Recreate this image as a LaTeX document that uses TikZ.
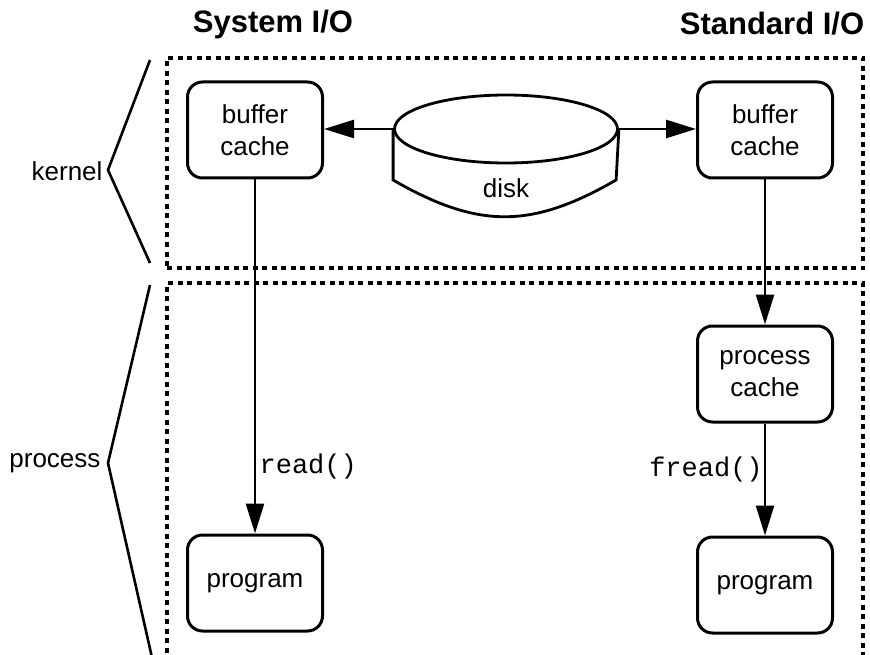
\documentclass[tikz,border=0pt]{standalone}
\usepackage{fontspec}
\setmainfont{Liberation Sans}
\setmonofont{Liberation Mono}
\usetikzlibrary{arrows.meta, positioning, shapes.geometric}

\begin{document}
\begin{tikzpicture}[x=1pt,y=-1pt,>={Triangle[length=30pt,width=18pt]}]

		\tikzstyle{cachebox}=[rectangle,rounded corners=15pt,draw,line width=3pt,
			minimum width=135pt,minimum height=96pt,align=center,
			font=\fontsize{26}{32}\selectfont]
		\tikzstyle{layer}=[rectangle,draw,line width=3.4pt,dash pattern=on 5pt off 4.5pt,
			minimum width=696pt]
		\tikzstyle{title}=[font=\fontsize{31}{34}\selectfont\bfseries]
		\tikzstyle{side}=[font=\fontsize{26}{30}\selectfont]
		\tikzstyle{call}=[font=\fontsize{27}{30}\selectfont\ttfamily]
		\tikzstyle{flow}=[->,line width=2.6pt]

		\useasboundingbox (0,0) rectangle (870,655);

		\node [title] (sysio) at (273,24) {System I/O};
		\node [title] (stdio) at (772,24) {Standard I/O};

		\node [layer, minimum height=210pt] (kernelbox) at (515,163) {};
		\node [layer, minimum height=400pt] (processbox) at (515,483) {};

		\node [cachebox] (bufL) at (255,130) {buffer\\cache};
		\node [cachebox] (bufR) at (765,130) {buffer\\cache};
		\node [cachebox, below=354pt of bufL] (progL) {program};
		\node [cachebox, below=145pt of bufR] (procC) {process\\cache};
		\node [cachebox, below=112pt of procC] (progR) {program};

		% disk
		\node [ellipse, draw, line width=2.8pt, minimum width=223pt, minimum height=68pt]
			(disk) at (506,129) {};
		\draw [line width=2.8pt] (disk.west) -- ++(0,51) coordinate (dsw)
			.. controls ++(85,49) and ++(-85,49) .. ++(223,0) coordinate (dse)
			-- (disk.east);
		\node [side] (disklabel) at (506,188) {disk};

		\draw [flow] (disk.west) -- (disk.west -| bufL.east);
		\draw [flow] (disk.east) -- (disk.east -| bufR.west);

		\draw [flow] (bufL) -- node [call, pos=.81, anchor=west] {read()} (progL);
		\draw [flow] (bufR) -- (procC);
		\draw [flow] (procC) -- node [call, pos=.41, anchor=east, inner sep=1pt] {fread()} (progR);

		% layer brackets
		\draw [line width=2.6pt] (150,60) -- (108,170) -- (150,263);
		\draw [line width=2.6pt] (150,285) -- (108,463) -- (153,662);
		\node [side, anchor=east] (kernel) at (106,171) {kernel};
		\node [side, anchor=east] (process) at (104,463) {process};
	\end{tikzpicture}
\end{document}
